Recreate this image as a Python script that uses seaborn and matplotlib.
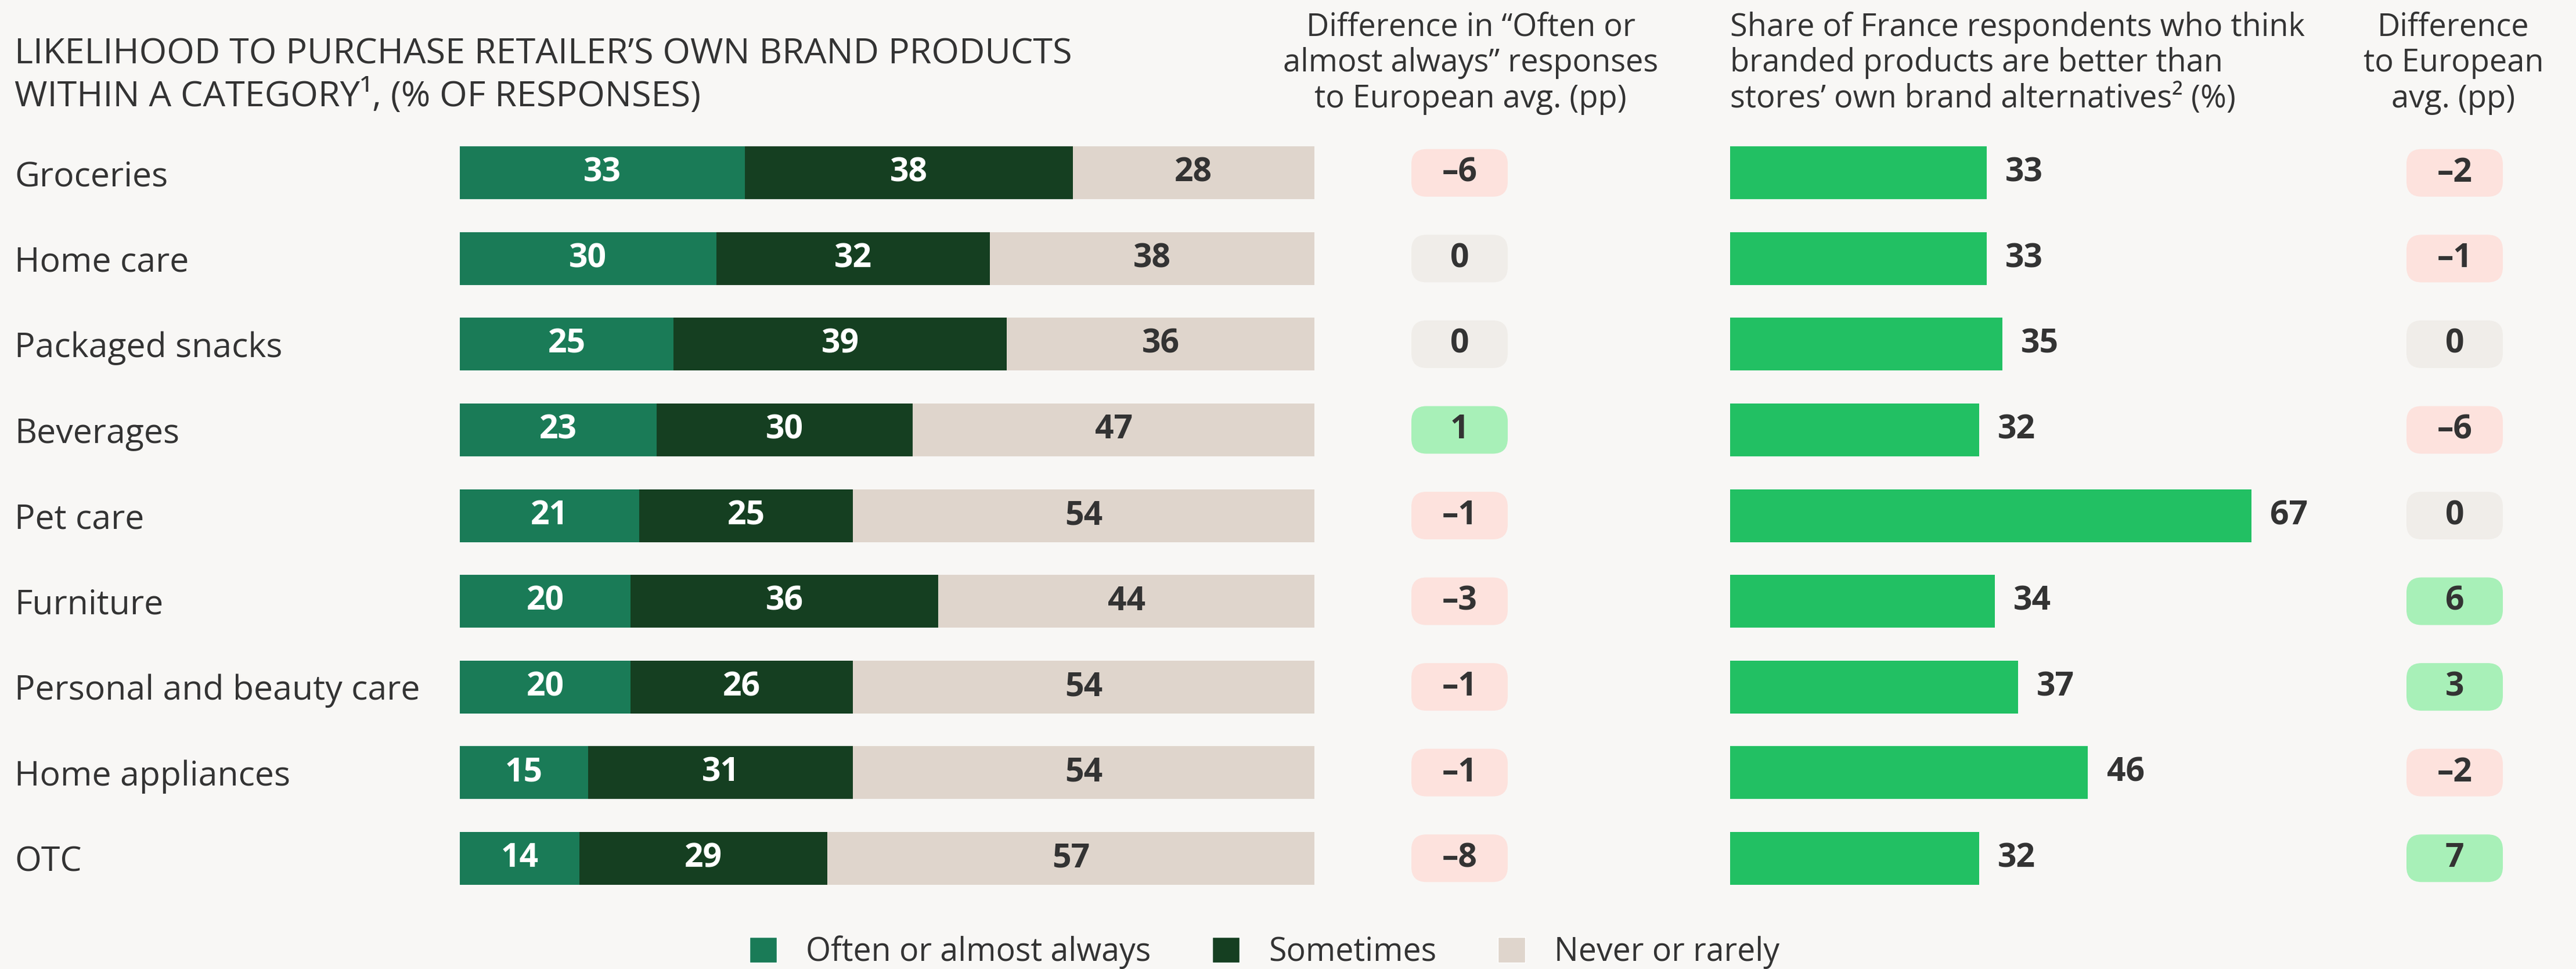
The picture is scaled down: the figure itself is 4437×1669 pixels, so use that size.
import numpy as np
import pandas as pd
import matplotlib
matplotlib.use('Agg')
import matplotlib.pyplot as plt
from matplotlib.patches import FancyBboxPatch, Patch
import seaborn as sns

# Data
categories = ['Groceries', 'Home care', 'Packaged snacks', 'Beverages', 'Pet care',
              'Furniture', 'Personal and beauty care', 'Home appliances', 'OTC']
often = [33, 30, 25, 23, 21, 20, 20, 15, 14]
sometimes = [38, 32, 39, 30, 25, 36, 26, 31, 29]
never = [28, 38, 36, 47, 54, 44, 54, 54, 57]
often_diff = [-6, 0, 0, 1, -1, -3, -1, -1, -8]
branded_share = [33, 33, 35, 32, 67, 34, 37, 46, 32]
branded_diff = [-2, -1, 0, -6, 0, 6, 3, -2, 7]

# Colours
BG = '#f8f7f5'
TXT = '#333333'
C_OFTEN = '#1a7b57'
C_SOME = '#153f21'
C_NEVER = '#dfd5cc'
C_BAR = '#22c063'
C_NEG = '#fde2dd'
C_ZERO = '#f0ede9'
C_POS = '#a8f0b8'

sns.set_style('white')
plt.rcParams['font.family'] = ['Open Sans', 'DejaVu Sans']
plt.rcParams['text.color'] = TXT

W, H = 4437, 1669
fig = plt.figure(figsize=(W / 100, H / 100), dpi=100, facecolor=BG)

# shared vertical frame (pixels from top)
top_px, bot_px = 224, 1552
row_h = (bot_px - top_px) / 9
bar_w = 91 / row_h
fs_lab = 42.5
fs_head = 39
fs_val = 41


def make_ax(x0, x1):
    ax = fig.add_axes([x0 / W, 1 - bot_px / H, (x1 - x0) / W, (bot_px - top_px) / H])
    ax.set_facecolor('none')
    for s in ax.spines.values():
        s.set_visible(False)
    return ax


df = pd.DataFrame({'category': categories, 'often': often,
                   'sometimes': sometimes, 'never': never})
tot = df[['often', 'sometimes', 'never']].sum(axis=1)
df['p_often'] = df['often'] / tot * 100
df['p_some'] = (df['often'] + df['sometimes']) / tot * 100
df['p_all'] = 100.0

# Stacked bars
ax1 = make_ax(792, 2264)
for col, c in [('p_all', C_NEVER), ('p_some', C_SOME), ('p_often', C_OFTEN)]:
    sns.barplot(data=df, x=col, y='category', color=c, saturation=1,
                width=bar_w, orient='h', linewidth=0, edgecolor='none', ax=ax1)
ax1.set_xlim(0, 100)
ax1.set_ylim(8.5, -0.5)
ax1.set_xlabel('')
ax1.set_ylabel('')
ax1.set_xticks([])
ax1.tick_params(axis='y', length=0, pad=(792 - 25) * 0.72, labelsize=fs_lab, labelcolor=TXT)
for lab in ax1.get_yticklabels():
    lab.set_horizontalalignment('left')
for i, r in df.iterrows():
    ax1.text(r['p_often'] / 2, i, f"{r['often']}", ha='center', va='center',
             color='white', fontsize=fs_val, fontweight='bold')
    ax1.text((r['p_often'] + r['p_some']) / 2, i, f"{r['sometimes']}", ha='center',
             va='center', color='white', fontsize=fs_val, fontweight='bold')
    ax1.text((r['p_some'] + 100) / 2, i, f"{r['never']}", ha='center', va='center',
             color=TXT, fontsize=fs_val, fontweight='bold')


def fmt(v):
    return f"\u2013{abs(v)}" if v < 0 else f"{v}"


def pill_col(v):
    return C_NEG if v < 0 else (C_POS if v > 0 else C_ZERO)


def draw_pills(cx, vals):
    half = 220
    ax = make_ax(cx - half, cx + half)
    ax.set_xlim(-half / row_h, half / row_h)
    ax.set_ylim(8.5, -0.5)
    ax.set_xticks([])
    ax.set_yticks([])
    pw, ph, rr = 166 / row_h, 82 / row_h, 26 / row_h
    for i, v in enumerate(vals):
        ax.add_patch(FancyBboxPatch((-pw / 2, i - ph / 2), pw, ph,
                                    boxstyle=f"round,pad=0,rounding_size={rr}",
                                    facecolor=pill_col(v), edgecolor='none'))
        ax.text(0, i, fmt(v), ha='center', va='center', color=TXT,
                fontsize=fs_val, fontweight='bold')
    return ax


draw_pills(2514, often_diff)

# Branded share bars
ax3 = make_ax(2980, 3980)
sns.barplot(x=branded_share, y=categories, color=C_BAR, saturation=1,
            width=bar_w, orient='h', linewidth=0, edgecolor='none', ax=ax3)
ax3.set_xlim(0, 1000 / 13.4)
ax3.set_ylim(8.5, -0.5)
ax3.set_xticks([])
ax3.set_yticks([])
ax3.set_xlabel('')
ax3.set_ylabel('')
for i, v in enumerate(branded_share):
    ax3.text(v + 2.4, i, f"{v}", ha='left', va='center', color=TXT,
             fontsize=fs_val, fontweight='bold')

draw_pills(4228, branded_diff)

# Headers
fig.text(25 / W, 1 - 64 / H,
         'LIKELIHOOD TO PURCHASE RETAILER\u2019S OWN BRAND PRODUCTS\nWITHIN A CATEGORY\u00b9, (% OF RESPONSES)',
         ha='left', va='top', fontsize=44, linespacing=1.22, color=TXT)
fig.text(2533 / W, 1 - 20 / H,
         'Difference in \u201cOften or\nalmost always\u201d responses\nto European avg. (pp)',
         ha='center', va='top', fontsize=fs_head, linespacing=1.15, color=TXT)
fig.text(2980 / W, 1 - 20 / H,
         'Share of France respondents who think\nbranded products are better than\nstores\u2019 own brand alternatives\u00b2 (%)',
         ha='left', va='top', fontsize=fs_head, linespacing=1.15, color=TXT)
fig.text(4226 / W, 1 - 20 / H, 'Difference\nto European\navg. (pp)',
         ha='center', va='top', fontsize=fs_head, linespacing=1.15, color=TXT)

# Legend
handles = [Patch(facecolor=C_OFTEN), Patch(facecolor=C_SOME), Patch(facecolor=C_NEVER)]
labels = ['Often or almost always', 'Sometimes', 'Never or rarely']
fig.legend(handles, labels, loc='center', bbox_to_anchor=(2178 / W, 1 - 1640 / H),
           ncol=3, frameon=False, fontsize=40, handlelength=0.85, handleheight=0.85,
           handletextpad=0.9, columnspacing=1.9, labelcolor=TXT)

fig.savefig('out.png', dpi=100, facecolor=BG)
